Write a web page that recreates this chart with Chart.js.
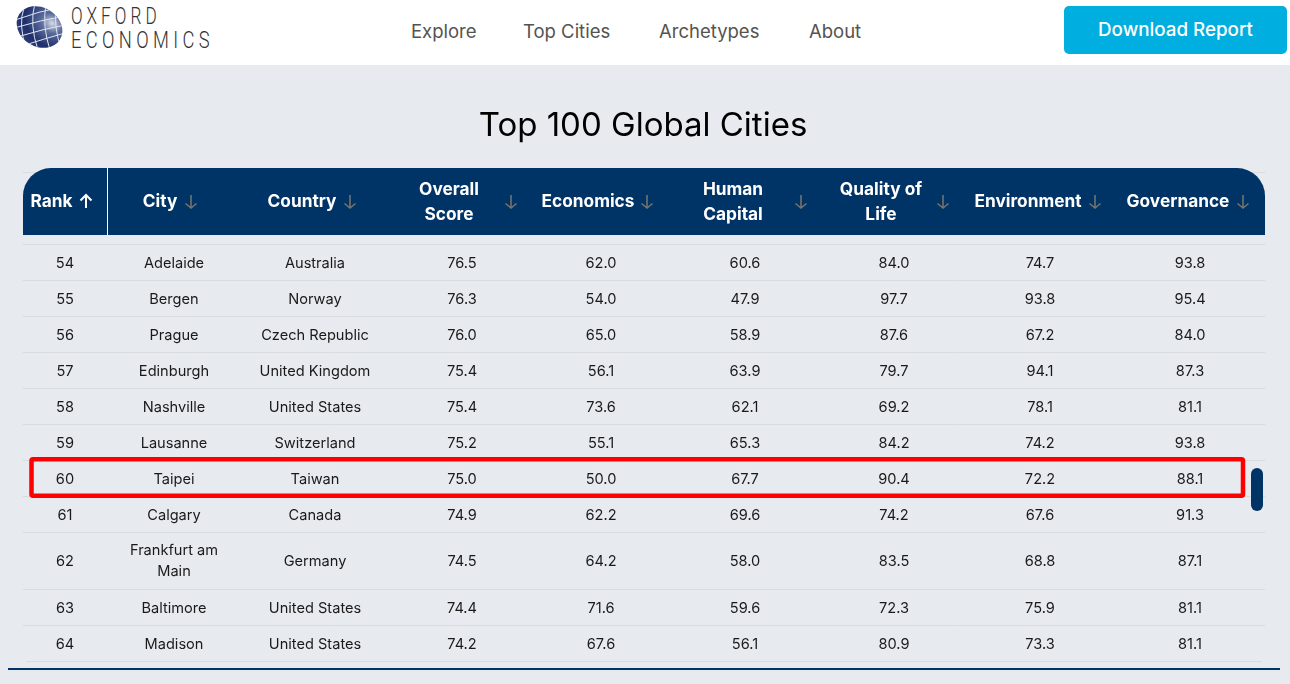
<!DOCTYPE html>
<html><head><meta charset="utf-8">
<script src="https://cdn.jsdelivr.net/npm/chart.js@4"></script>
<style>
html,body{margin:0;padding:0;width:1290px;height:684px;overflow:hidden;background:#e7eaef;font-family:Inter,sans-serif}
#top{position:absolute;left:0;top:0;width:1290px;height:65px;background:#fff}
#top span,#title,#btn{position:absolute;white-space:nowrap}
.nav{top:20px;font-size:18.5px;line-height:22px;color:#55534f}
.oe{font-family:Roboto,"Liberation Sans",sans-serif;font-weight:300;font-size:23.5px;line-height:24px;color:#333;transform-origin:0 50%}
#btn{left:1064px;top:6px;width:223px;height:48px;border-radius:5px;background:#00aedf;color:#fff;font-size:18.8px;font-weight:500;line-height:48px;text-align:center}
#title{left:0;width:1286px;top:101.5px;text-align:center;font-size:33px;line-height:44px;color:#000}
canvas{position:absolute;left:0;top:0}
</style></head><body>
<canvas id="c" width="1290" height="684"></canvas>
<div id="top">
<svg width="60" height="60" style="position:absolute;left:11px;top:0">
<defs><radialGradient id="g" cx="0.68" cy="0.25" r="0.85"><stop offset="0" stop-color="#d5dbe8"/><stop offset="0.28" stop-color="#5a6b9c"/><stop offset="0.7" stop-color="#1f2f6b"/><stop offset="1" stop-color="#2c3e78"/></radialGradient>
<clipPath id="cp"><ellipse cx="28.5" cy="27" rx="24" ry="19.5" transform="rotate(32 28.5 27)"/></clipPath></defs>
<ellipse cx="28.5" cy="27" rx="24" ry="19.5" transform="rotate(32 28.5 27)" fill="url(#g)"/>
<g clip-path="url(#cp)" fill="none" stroke="#dfe4ef" stroke-width="1">
<path d="M4 20Q28 11 52 7M3 28Q30 20 54 16M6 37Q32 29 54 25M14 45Q36 38 54 33"/>
<path d="M13 8Q7 24 15 48M24 3Q18 24 27 50M35 4Q31 26 39 50M45 9Q43 26 49 46"/>
</g></svg>
<span class="oe" style="left:71px;top:4px;letter-spacing:5.6px;transform:scaleX(.73)">OXFORD</span>
<span class="oe" style="left:71px;top:28px;letter-spacing:5.6px;transform:scaleX(.78)">ECONOMICS</span>
<span class="nav" style="left:411px">Explore</span>
<span class="nav" style="left:523px">Top Cities</span>
<span class="nav" style="left:659px">Archetypes</span>
<span class="nav" style="left:809px">About</span>
<div id="btn">Download Report</div>
</div>
<div id="title">Top 100 Global Cities</div>
<script>
const columns = ['Rank','City','Country','Overall Score','Economics','Human Capital','Quality of Life','Environment','Governance'];
const ranks = ['54','55','56','57','58','59','60','61','62','63','64'];
const cities = ['Adelaide','Bergen','Prague','Edinburgh','Nashville','Lausanne','Taipei','Calgary','Frankfurt am Main','Baltimore','Madison'];
const countries = ['Australia','Norway','Czech Republic','United Kingdom','United States','Switzerland','Taiwan','Canada','Germany','United States','United States'];
const overallScore = [76.5,76.3,76.0,75.4,75.4,75.2,75.0,74.9,74.5,74.4,74.2];
const economics = [62.0,54.0,65.0,56.1,73.6,55.1,50.0,62.2,64.2,71.6,67.6];
const humanCapital = [60.6,47.9,58.9,63.9,62.1,65.3,67.7,69.6,58.0,59.6,56.1];
const qualityOfLife = [84.0,97.7,87.6,79.7,69.2,84.2,90.4,74.2,83.5,72.3,80.9];
const environment = [74.7,93.8,67.2,94.1,78.1,74.2,72.2,67.6,68.8,75.9,73.3];
const governance = [93.8,95.4,84.0,87.3,81.1,93.8,88.1,91.3,87.1,81.1,81.1];
const highlighted = 'Taipei';

// layout only
const columnWidths = [84,134,148,146,132,156,142,150,150];
const rowHeights = [36,36,36,36,36,36,36,36,57,36,36];
const headerLines = [['Rank'],['City'],['Country'],['Overall','Score'],['Economics'],['Human','Capital'],['Quality of','Life'],['Environment'],['Governance']];
const headerLabelOffset = [-13.5,-14,-13,-13,-13,-12,-13,-12,-12];
const headerArrowOffset = [21,17,35,49,46,56,49,55,53];
const FONT = 'Inter, sans-serif';
const CELL = '14.6px ' + FONT, HEAD = '700 17.3px ' + FONT;

class BandScale extends Chart.CategoryScale {
  static id = 'band';
  static defaults = Chart.CategoryScale.defaults;
  _span(){ return this.isHorizontal() ? [this.left,this.width] : [this.top,this.height]; }
  edge(i){
    const b=this.options.bands, tot=b.reduce((a,c)=>a+c,0); let s=0;
    for(let k=0;k<i;k++) s+=b[k];
    const [o,l]=this._span(); return o+l*s/tot;
  }
  getPixelForValue(v){
    if(typeof v!=='number') v=this.parse(v);
    return (this.edge(v)+this.edge(v+1))/2;
  }
  getPixelForTick(i){ return this.getPixelForValue(i); }
}
Chart.register(BandScale);

function series(colIndex, values, fmt){
  return {label:columns[colIndex], showLine:false, pointRadius:0,
    data:values.map((v,i)=>({x:columns[colIndex], y:ranks[i], text:fmt?fmt(v):v}))};
}
const f1=v=>v.toFixed(1);

const tablePlugin = {
  id:'table',
  beforeDatasetsDraw(chart){
    const {ctx,scales:{x,y}}=chart, L=x.left, R=x.right;
    ctx.save();
    ctx.strokeStyle='#d9dbe0'; ctx.lineWidth=1;
    const hl=(yy,a,b)=>{ctx.beginPath();ctx.moveTo(a,yy+.5);ctx.lineTo(b,yy+.5);ctx.stroke();};
    hl(172,L,R);
    for(let i=0;i<=ranks.length;i++){
      const yy=Math.round(y.edge(i));
      i===ranks.length ? hl(yy,L+3,R-3) : hl(yy,L,R);
    }
    // header band
    const T=168,B=235;
    ctx.fillStyle='#003366';
    ctx.beginPath(); ctx.roundRect(L,T,R-L,B-T,[28,28,0,0]); ctx.fill();
    ctx.fillStyle='#fff'; ctx.fillRect(Math.round(x.edge(1)),T,1,B-T);
    ctx.textAlign='center'; ctx.textBaseline='middle'; ctx.font=HEAD;
    columns.forEach((c,i)=>{
      const cx=x.getPixelForValue(i), lines=headerLines[i];
      ctx.fillStyle='#fff';
      lines.forEach((t,k)=>{
        const yy=lines.length===1?202:190+k*25;
        ctx.fillText(t,cx+headerLabelOffset[i],yy);
      });
      const ax=cx+headerArrowOffset[i], up=i===0;
      ctx.strokeStyle=up?'#fff':'#74746c'; ctx.lineWidth=up?2:1.6;
      const a=up?208:195,b=up?195:208,d=up?5:-5;
      ctx.beginPath();ctx.moveTo(ax,a);ctx.lineTo(ax,b);
      ctx.moveTo(ax-5.5,b+d+0.5);ctx.lineTo(ax,b);ctx.lineTo(ax+5.5,b+d+0.5);ctx.stroke();
    });
    ctx.restore();
  },
  afterDatasetsDraw(chart){
    const {ctx,scales:{x,y}}=chart;
    ctx.save();
    ctx.font=CELL; ctx.fillStyle='#1a1a1a'; ctx.textAlign='center'; ctx.textBaseline='middle';
    chart.data.datasets.forEach((ds,di)=>{
      chart.getDatasetMeta(di).data.forEach((el,i)=>{
        const t=String(ds.data[i].text);
        if(ctx.measureText(t).width>115){
          const w=t.split(' '), tail=w.pop();
          ctx.fillText(w.join(' '),el.x,el.y-10); ctx.fillText(tail,el.x,el.y+11);
        } else ctx.fillText(t,el.x,el.y+1.5);
      });
    });
    // highlight box around the marked row
    const r=cities.indexOf(highlighted);
    ctx.strokeStyle='#f00'; ctx.lineWidth=4.5;
    ctx.beginPath(); ctx.roundRect(x.left+8.5,y.edge(r)-.7,1211.5,y.edge(r+1)-y.edge(r)+.5,1.5); ctx.stroke();
    // scrollbar thumb + footer rule
    ctx.fillStyle='#003366';
    ctx.beginPath(); ctx.roundRect(1251,468,12,43,6); ctx.fill();
    ctx.fillRect(8,668,1272,2);
    ctx.restore();
  }
};

new Chart(document.getElementById('c'),{
  type:'line',
  data:{labels:columns,datasets:[
    series(0,ranks),series(1,cities),series(2,countries),
    series(3,overallScore,f1),series(4,economics,f1),series(5,humanCapital,f1),
    series(6,qualityOfLife,f1),series(7,environment,f1),series(8,governance,f1)]},
  options:{responsive:false,animation:false,
    layout:{padding:{left:23,right:25,top:244,bottom:23}},
    plugins:{legend:{display:false},title:{display:false},tooltip:{enabled:false}},
    scales:{
      x:{type:'band',labels:columns,bands:columnWidths,display:false,offset:false},
      y:{type:'band',labels:ranks,bands:rowHeights,display:false,offset:false}
    }},
  plugins:[tablePlugin]
});
</script>
</body></html>
